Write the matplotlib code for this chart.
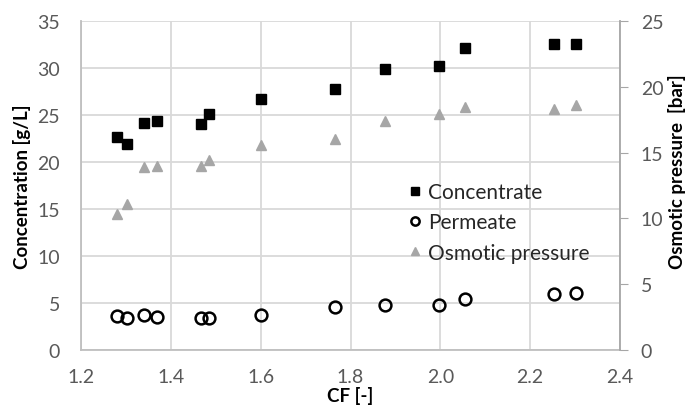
import matplotlib
matplotlib.use('Agg')
import matplotlib.pyplot as plt

plt.rcParams['font.family'] = ['Lato', 'DejaVu Sans']

cf = [1.28, 1.302, 1.34, 1.37, 1.467, 1.485, 1.6, 1.765, 1.876, 1.996, 2.054, 2.252, 2.303]
concentrate = [22.7, 21.9, 24.2, 24.4, 24.0, 25.1, 26.7, 27.8, 29.9, 30.2, 32.1, 32.6, 32.6]
permeate = [3.6, 3.4, 3.7, 3.5, 3.4, 3.4, 3.7, 4.6, 4.8, 4.8, 5.4, 6.0, 6.1]
osmotic = [10.3, 11.1, 13.9, 14.0, 14.0, 14.4, 15.6, 16.0, 17.4, 17.9, 18.5, 18.3, 18.6]

fig = plt.figure(figsize=(6.88, 4.14), dpi=100)
ax = fig.add_axes([81/688, 63/414, 539/688, 329/414])
ax2 = ax.twinx()

grid_c = '#d9d9d9'
tick_c = '#595959'

h1, = ax.plot(cf, concentrate, 's', color='black', ms=7.5, label='Concentrate', zorder=3)
h2, = ax.plot(cf, permeate, 'o', mfc='none', mec='black', mew=1.8, ms=8.5, label='Permeate', zorder=3)
h3, = ax2.plot(cf, osmotic, '^', color='#a6a6a6', ms=7.5, label='Osmotic pressure', zorder=3)

ax.set_xlim(1.2, 2.4)
ax.set_ylim(0, 35)
ax2.set_ylim(0, 25)
ax.set_xticks([1.2, 1.4, 1.6, 1.8, 2.0, 2.2, 2.4])
ax.set_xticklabels(['1.2', '1.4', '1.6', '1.8', '2.0', '2.2', '2.4'])
ax.set_yticks(range(0, 36, 5))
ax2.set_yticks(range(0, 26, 5))

ax.grid(True, color=grid_c, lw=1.3)
ax.set_axisbelow(True)
for s in ['top']:
    ax.spines[s].set_visible(False)
    ax2.spines[s].set_visible(False)
ax.spines['right'].set_visible(False)
ax.spines['left'].set_color('#bfbfbf')
ax.spines['left'].set_linewidth(1.3)
ax.spines['bottom'].set_color('#bfbfbf')
ax.spines['bottom'].set_linewidth(1.3)
ax2.spines['left'].set_visible(False)
ax2.spines['bottom'].set_visible(False)
ax2.spines['right'].set_color('#a6a6a6')
ax2.spines['right'].set_linewidth(1.3)

ax.tick_params(axis='y', length=0, labelsize=14, labelcolor=tick_c, pad=15)
ax.tick_params(axis='x', length=0, labelsize=14, labelcolor=tick_c, pad=13)
ax2.tick_params(axis='y', length=6, color='#a6a6a6', labelsize=14, labelcolor=tick_c, pad=9)

ax.set_xlabel('CF [-]', fontsize=13.5, fontweight='bold', labelpad=1)
ax.set_ylabel('Concentration [g/L]', fontsize=13.5, fontweight='bold', ha='center', va='center')
ax.yaxis.set_label_coords(-0.1095, 0.5)
ax2.set_ylabel('Osmotic pressure  [bar]', fontsize=13.5, fontweight='bold', ha='center', va='center')
ax2.yaxis.set_label_coords(1.106, 0.545)

leg = ax.legend(handles=[h1, h2, h3], loc='upper left', bbox_to_anchor=(0.566, 0.568),
                frameon=False, fontsize=15, handletextpad=0.1, handlelength=1.0,
                labelspacing=0.5, markerscale=0.7)
for t in leg.get_texts():
    t.set_color('#262626')

fig.savefig('out.png', dpi=100)
